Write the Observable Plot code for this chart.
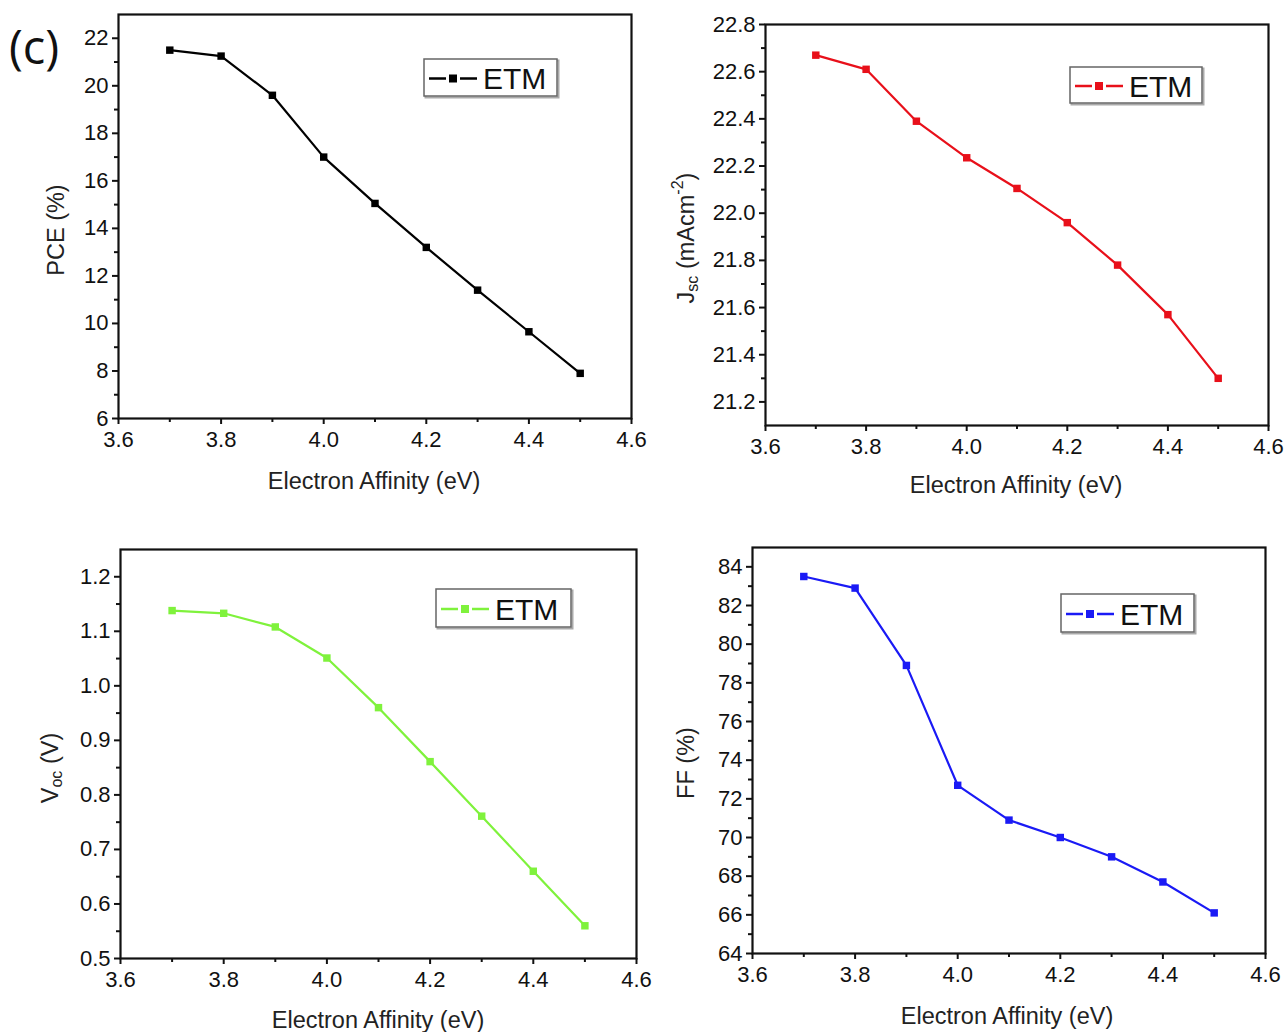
<!DOCTYPE html>
<html>
<head>
<meta charset="utf-8">
<script src="https://cdn.jsdelivr.net/npm/d3@7"></script>
<script src="https://cdn.jsdelivr.net/npm/@observablehq/plot@0.6"></script>
<style>
  html, body { margin: 0; padding: 0; background: #fff; }
  #wrap { position: relative; width: 1284px; height: 1032px; background: #fff; overflow: hidden; }
  #wrap svg { position: absolute; overflow: visible; }
</style>
</head>
<body>
<div id="wrap"></div>
<script>
// ---- data ----
const electronAffinity = [3.7, 3.8, 3.9, 4.0, 4.1, 4.2, 4.3, 4.4, 4.5];
const pce = [21.5, 21.25, 19.6, 17.0, 15.05, 13.2, 11.4, 9.65, 7.9];
const jsc = [22.67, 22.61, 22.39, 22.235, 22.105, 21.96, 21.78, 21.57, 21.30];
const voc = [1.138, 1.133, 1.108, 1.051, 0.960, 0.861, 0.761, 0.660, 0.560];
const ff = [83.5, 82.9, 78.9, 72.7, 70.9, 70.0, 69.0, 67.7, 66.1];

const xTicks = [3.6, 3.8, 4.0, 4.2, 4.4, 4.6];
const xMinorTicks = [3.7, 3.9, 4.1, 4.3, 4.5];

const pceTicks = [6, 8, 10, 12, 14, 16, 18, 20, 22];
const pceMinor = [7, 9, 11, 13, 15, 17, 19, 21];
const jscTicks = [21.2, 21.4, 21.6, 21.8, 22.0, 22.2, 22.4, 22.6, 22.8];
const jscMinor = [21.3, 21.5, 21.7, 21.9, 22.1, 22.3, 22.5, 22.7];
const vocTicks = [0.5, 0.6, 0.7, 0.8, 0.9, 1.0, 1.1, 1.2];
const vocMinor = [0.55, 0.65, 0.75, 0.85, 0.95, 1.05, 1.15];
const ffTicks = [64, 66, 68, 70, 72, 74, 76, 78, 80, 82, 84];
const ffMinor = [65, 67, 69, 71, 73, 75, 77, 79, 81, 83];

const xLabel = "Electron Affinity (eV)";
const legendName = "ETM";
const panelTag = "(c)";

const FONT = "'Liberation Sans', Arial, sans-serif";
const TICK_FS = 22;
const TITLE_FS = 23.5;

const panels = [
  {
    values: pce, color: "#000000", yDomain: [6, 23], yTicks: pceTicks, yMinor: pceMinor, yFmt: d3.format("d"),
    left: 0, top: 0, width: 642, height: 510, m: {top: 14, right: 11, bottom: 92, left: 118},
    xTitle: {x: 374, y: 489}, yTitle: {x: 58, y: 230, parts: [["PCE (%)", 0, TITLE_FS]]},
    legend: {x: 424, y: 59, w: 133, h: 37}
  },
  {
    values: jsc, color: "#e8101a", yDomain: [21.1, 22.8], yTicks: jscTicks, yMinor: jscMinor, yFmt: d3.format(".1f"),
    left: 642, top: 0, width: 642, height: 510, m: {top: 24, right: 16, bottom: 85, left: 123},
    xTitle: {x: 374, y: 493}, yTitle: {x: 46, y: 238, parts: [["J", 0, TITLE_FS], ["sc", 6, 16], [" (mAcm", -6, TITLE_FS], ["-2", -9, 16], [")", 9, TITLE_FS]]},
    legend: {x: 428, y: 67, w: 132, h: 36}
  },
  {
    values: voc, color: "#7ff23c", yDomain: [0.5, 1.25], yTicks: vocTicks, yMinor: vocMinor, yFmt: d3.format(".1f"),
    left: 0, top: 515, width: 642, height: 517, m: {top: 34, right: 6, bottom: 74, left: 120},
    xTitle: {x: 378, y: 513}, yTitle: {x: 52, y: 253, parts: [["V", 0, TITLE_FS], ["oc", 6, 16], [" (V)", -6, TITLE_FS]]},
    legend: {x: 436, y: 74, w: 135, h: 38}
  },
  {
    values: ff, color: "#1a1af5", yDomain: [64, 85], yTicks: ffTicks, yMinor: ffMinor, yFmt: d3.format("d"),
    left: 642, top: 515, width: 642, height: 517, m: {top: 32, right: 19, bottom: 79, left: 110},
    xTitle: {x: 365, y: 509}, yTitle: {x: 46, y: 248, parts: [["FF (%)", 0, TITLE_FS]]},
    legend: {x: 419, y: 79, w: 133, h: 38}
  }
];

const wrap = document.getElementById("wrap");

panels.forEach((p, i) => {
  const data = electronAffinity.map((x, k) => ({x, y: p.values[k]}));
  const chart = Plot.plot({
    width: p.width,
    height: p.height,
    marginTop: p.m.top, marginRight: p.m.right, marginBottom: p.m.bottom, marginLeft: p.m.left,
    style: {fontFamily: FONT, color: "#111", background: "transparent", overflow: "visible"},
    x: {domain: [3.6, 4.6]},
    y: {domain: p.yDomain},
    marks: [
      Plot.axisX(xTicks, {tickSize: 6, tickPadding: 7, fontSize: TICK_FS, strokeWidth: 2, tickFormat: d3.format(".1f"), label: null}),
      Plot.axisX(xMinorTicks, {tickSize: 4, strokeWidth: 2, tickFormat: () => "", label: null}),
      Plot.axisY(p.yTicks, {tickSize: 6, tickPadding: 4, fontSize: TICK_FS, strokeWidth: 2, tickFormat: p.yFmt, label: null}),
      Plot.axisY(p.yMinor, {tickSize: 4, strokeWidth: 2, tickFormat: () => "", label: null}),
      Plot.line(data, {x: "x", y: "y", stroke: p.color, strokeWidth: 2.2}),
      Plot.dot(data, {x: "x", y: "y", symbol: "square", fill: p.color, r: 4.2}),
      Plot.frame({stroke: "#111", strokeWidth: 2.2})
    ]
  });
  chart.style.left = p.left + "px";
  chart.style.top = p.top + "px";
  wrap.appendChild(chart);

  const svg = d3.select(chart);

  // x title
  svg.append("text")
    .attr("x", p.xTitle.x).attr("y", p.xTitle.y)
    .attr("text-anchor", "middle")
    .attr("font-family", FONT).attr("font-size", TITLE_FS).attr("fill", "#222")
    .text(xLabel);

  // y title (rotated, with sub/superscripts)
  const yt = svg.append("text")
    .attr("transform", `translate(${p.yTitle.x},${p.yTitle.y}) rotate(-90)`)
    .attr("text-anchor", "middle")
    .attr("dominant-baseline", "middle")
    .attr("font-family", FONT).attr("fill", "#222");
  p.yTitle.parts.forEach(([t, dy, fs]) => {
    yt.append("tspan").attr("dy", dy).attr("font-size", fs).text(t);
  });

  // legend
  const L = p.legend;
  const g = svg.append("g");
  g.append("rect").attr("x", L.x + 1.5).attr("y", L.y + 1.5).attr("width", L.w).attr("height", L.h)
    .attr("fill", "none").attr("stroke", "#aaa").attr("stroke-width", 2);
  g.append("rect").attr("x", L.x).attr("y", L.y).attr("width", L.w).attr("height", L.h)
    .attr("fill", "#fff").attr("stroke", "#666").attr("stroke-width", 1.5);
  const cy = L.y + L.h / 2 + 1;
  g.append("line").attr("x1", L.x + 5).attr("x2", L.x + 22).attr("y1", cy).attr("y2", cy)
    .attr("stroke", p.color).attr("stroke-width", 2.5);
  g.append("rect").attr("x", L.x + 25).attr("y", cy - 4).attr("width", 8).attr("height", 8).attr("fill", p.color);
  g.append("line").attr("x1", L.x + 36).attr("x2", L.x + 53).attr("y1", cy).attr("y2", cy)
    .attr("stroke", p.color).attr("stroke-width", 2.5);
  g.append("text").attr("x", L.x + 59).attr("y", cy + 10.5)
    .attr("text-anchor", "start")
    .attr("font-family", FONT).attr("font-size", 30).attr("fill", "#111")
    .text(legendName);

  if (i === 0) {
    svg.append("text").attr("x", 9).attr("y", 64)
      .attr("text-anchor", "start")
      .attr("font-family", "'Open Sans', 'Noto Sans', sans-serif").attr("font-size", 47).attr("fill", "#111")
      .text(panelTag);
  }
});
</script>
</body>
</html>
